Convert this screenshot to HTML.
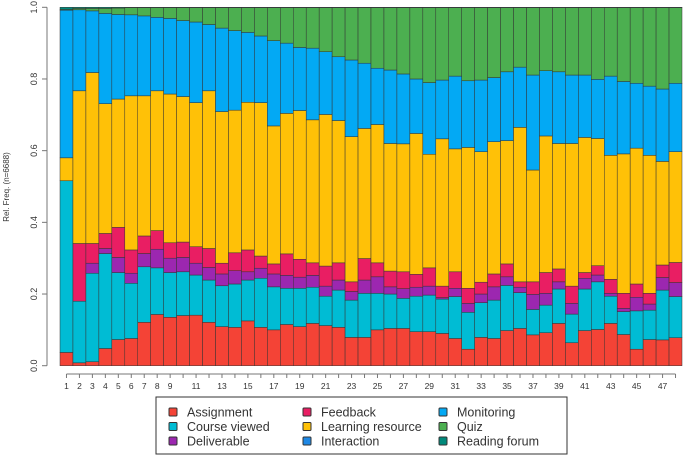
<!DOCTYPE html>
<html><head><meta charset="utf-8"><style>
html,body{margin:0;padding:0;background:#fff;width:685px;height:457px;overflow:hidden}
svg{display:block;font-family:"Liberation Sans","DejaVu Sans",sans-serif}
</style></head><body>
<svg id="chart" width="685" height="457" viewBox="0 0 685 457" xmlns="http://www.w3.org/2000/svg">
<g id="bars"></g>
<g id="axes"></g>
<text transform="translate(9,187) rotate(-90)" text-anchor="middle" font-size="8" fill="#333">Rel. Freq. (n=6688)</text>
<g>
<rect x="156" y="397" width="411" height="57" fill="#fff" stroke="#333" stroke-width="1"/>
<g id="legend-items"></g>
</g>
</svg>
<script>
const categories = [1,2,3,4,5,6,7,8,9,10,11,12,13,14,15,16,17,18,19,20,21,22,23,24,25,26,27,28,29,30,31,32,33,34,35,36,37,38,39,40,41,42,43,44,45,46,47,48];
const seriesNames = ["Assignment","Course viewed","Deliverable","Feedback","Learning resource","Interaction","Monitoring","Quiz","Reading forum"];
const seriesColors = ["#f44336","#00bcd4","#9c27b0","#e91e63","#ffc107","#1e88e5","#03a9f4","#4caf50","#00897b"];
const assignment = [.037,.008,.011,.048,.073,.076,.121,.143,.135,.140,.141,.121,.109,.107,.125,.107,.100,.115,.109,.118,.112,.107,.079,.079,.100,.104,.104,.095,.095,.090,.076,.046,.079,.076,.098,.104,.086,.092,.118,.064,.098,.101,.118,.087,.046,.073,.072,.078];
const courseViewed = [.479,.172,.247,.265,.187,.154,.155,.130,.125,.122,.112,.118,.114,.121,.114,.137,.120,.101,.107,.101,.082,.104,.104,.123,.102,.096,.084,.099,.102,.096,.117,.103,.097,.107,.126,.100,.071,.077,.096,.080,.116,.133,.076,.064,.107,.082,.139,.115];
const deliverable = [0,0,.028,.014,.042,.028,.037,.052,.040,.040,.033,.035,.033,.037,.023,.028,.036,.036,.031,.033,.028,.028,.024,.037,.046,.020,.027,.025,.025,.004,.023,.025,.024,.037,.024,.015,.042,.033,.020,.030,.030,.019,.008,.009,.038,.017,.035,.039];
const feedback = [0,.161,.055,.042,.084,.065,.049,.052,.043,.043,.046,.053,.030,.050,.061,.034,.028,.060,.050,.035,.056,.048,.027,.060,.039,.044,.047,.036,.051,.032,.046,.042,.033,.036,.036,.015,.035,.058,.036,.048,.016,.026,.039,.042,.037,.030,.035,.056];
const learningResource = [.064,.426,.477,.362,.358,.430,.391,.390,.415,.406,.402,.440,.423,.398,.412,.428,.385,.392,.415,.399,.423,.397,.405,.363,.386,.356,.357,.393,.317,.411,.343,.393,.364,.369,.344,.431,.312,.381,.350,.398,.377,.355,.346,.389,.379,.385,.289,.309];
const interaction = [0,0,0,0,0,0,0,0,0,0,0,0,0,0,0,0,0,0,0,0,0,0,0,0,0,0,0,0,0,0,0,0,0,0,0,0,0,0,0,0,0,0,0,0,0,0,0,0];
const monitoring = [.412,.226,.172,.252,.236,.226,.223,.205,.211,.212,.225,.185,.233,.222,.195,.186,.238,.196,.176,.200,.175,.178,.214,.182,.157,.205,.195,.152,.200,.164,.203,.186,.200,.179,.192,.168,.265,.182,.200,.191,.174,.165,.221,.202,.181,.193,.202,.191];
const quiz = [.002,.004,.007,.014,.018,.020,.023,.027,.030,.036,.040,.047,.057,.064,.069,.079,.092,.099,.111,.113,.123,.137,.146,.155,.169,.174,.185,.199,.209,.202,.191,.204,.202,.195,.179,.166,.188,.176,.179,.188,.188,.200,.191,.206,.211,.219,.227,.211];
const readingForum = [.006,.003,.003,.003,.002,.001,.001,.001,.001,.001,.001,.001,.001,.001,.001,.001,.001,.001,.001,.001,.001,.001,.001,.001,.001,.001,.001,.001,.001,.001,.001,.001,.001,.001,.001,.001,.001,.001,.001,.001,.001,.001,.001,.001,.001,.001,.001,.001];
const yTicks = [0,0.2,0.4,0.6,0.8,1.0];
const yTickLabels = ["0.0","0.2","0.4","0.6","0.8","1.0"];
const xTickLabels = ["1","2","3","4","5","6","7","8","9","11","13","15","17","19","21","23","25","27","29","31","33","35","37","39","41","43","45","47"];

const series = [assignment,courseViewed,deliverable,feedback,learningResource,interaction,monitoring,quiz,readingForum];
const NS = "http://www.w3.org/2000/svg";
const plotL = 60, plotR = 682, plotT = 7.3, plotB = 365.7;
const bw = (plotR - plotL) / categories.length;
function yScale(v){ return plotB - v * (plotB - plotT); }
function xScale(i){ return plotL + i * bw; }
function mk(tag, attrs){ const e = document.createElementNS(NS, tag); for (const k in attrs) e.setAttribute(k, attrs[k]); return e; }

const barsG = document.getElementById('bars');
categories.forEach((c, i) => {
  let cum = 0;
  series.forEach((s, si) => {
    const v = s[i];
    if (v <= 0) return;
    const y0 = yScale(cum), y1 = yScale(Math.min(cum + v, 1));
    cum += v;
    const r = mk('rect', {x: xScale(i), y: y1, width: bw, height: Math.max(0, y0 - y1), fill: seriesColors[si], stroke: '#333', 'stroke-width': 0.5});
    
    
    barsG.appendChild(r);
  });
});

const axesG = document.getElementById('axes');
const yAxis = mk('line', {x1: 47, x2: 47, y1: yScale(0), y2: yScale(1), stroke: '#777', 'stroke-width': 1});


axesG.appendChild(yAxis);
yTicks.forEach((t, i) => {
  const y = yScale(t);
  const tk = mk('line', {x1: 42, x2: 47, y1: y, y2: y, stroke: '#777', 'stroke-width': 1});
  
  
  axesG.appendChild(tk);
  const lb = mk('text', {transform: 'translate(37,' + y + ') rotate(-90)', 'text-anchor': 'middle', 'font-size': 9, fill: '#333'});
  lb.textContent = yTickLabels[i];
  
  
  axesG.appendChild(lb);
});
const xAxis = mk('line', {x1: xScale(0.5), x2: xScale(categories.length - 0.5), y1: 374, y2: 374, stroke: '#777', 'stroke-width': 1});


axesG.appendChild(xAxis);
categories.forEach((c, i) => {
  const x = xScale(i + 0.5);
  const tk = mk('line', {x1: x, x2: x, y1: 374, y2: 378, stroke: '#777', 'stroke-width': 1});
  
  
  axesG.appendChild(tk);
  if (xTickLabels.indexOf(String(c)) >= 0) {
    const lb = mk('text', {x: x, y: 389, 'text-anchor': 'middle', 'font-size': 8.5, fill: '#333'});
    lb.textContent = String(c);
    
    
    axesG.appendChild(lb);
  }
});

const legG = document.getElementById('legend-items');
const colX = [173, 307, 443];
const rowY = [412, 426.5, 441];
seriesNames.forEach((n, i) => {
  const cx = colX[Math.floor(i / 3)], cy = rowY[i % 3];
  const g = mk('g', {});
  
  
  const sw = mk('rect', {x: cx - 4, y: cy - 4, width: 8, height: 8, fill: seriesColors[i], stroke: '#333', 'stroke-width': 1, rx: 1});
  
  
  const tx = mk('text', {x: cx + 14, y: cy + 4.5, 'font-size': 12.5, fill: '#333'});
  tx.textContent = n;
  
  
  g.appendChild(sw); g.appendChild(tx); legG.appendChild(g);
});
</script>
</body></html>
